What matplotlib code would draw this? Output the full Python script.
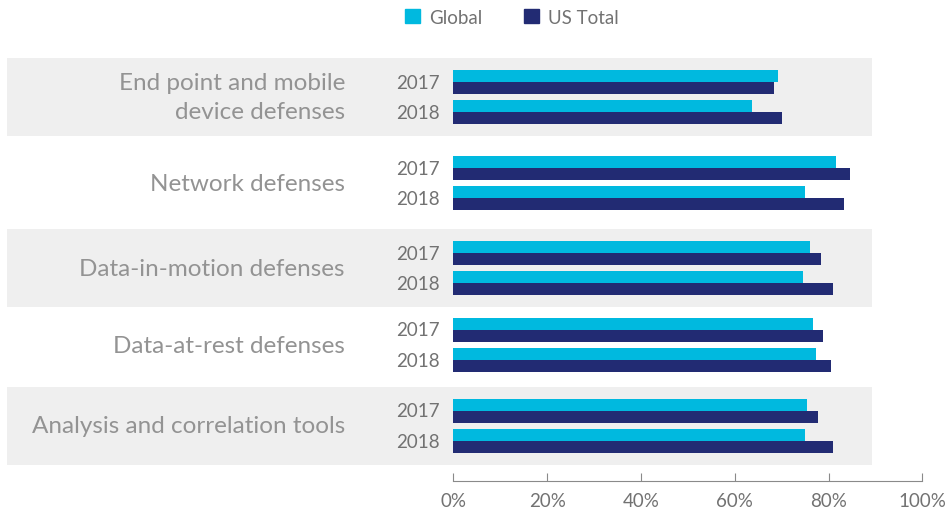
import numpy as np
import matplotlib.pyplot as plt
from matplotlib.patches import Patch
from matplotlib.transforms import blended_transform_factory

categories = ['End point and mobile\ndevice defenses', 'Network defenses',
              'Data-in-motion defenses', 'Data-at-rest defenses',
              'Analysis and correlation tools']
years = ['2017', '2018']
global_2017 = [69.2, 81.6, 76.1, 76.6, 75.4]
us_2017 = [68.4, 84.6, 78.4, 78.8, 77.7]
global_2018 = [63.7, 75.0, 74.6, 77.3, 75.0]
us_2018 = [70.0, 83.3, 80.9, 80.5, 80.9]
xticks = [0, 20, 40, 60, 80, 100]

c_global = '#00b9df'
c_us = '#222b73'
c_text = '#727272'
c_band = '#efefef'

plt.rcParams['font.family'] = ['Lato', 'DejaVu Sans']

fig = plt.figure(figsize=(9.52, 5.10), dpi=100)
ax = fig.add_axes([453.3 / 952, 28 / 510, 469 / 952, 425 / 510])

# group centres (the original spacing is slightly uneven)
y = np.array([0, 1.046, 2.079, 3.015, 4.0])
h = 0.14
ax.barh(y - 0.256, global_2017, height=h, color=c_global, zorder=3)
ax.barh(y - 0.110, us_2017, height=h, color=c_us, zorder=3)
ax.barh(y + 0.110, global_2018, height=h, color=c_global, zorder=3)
ax.barh(y + 0.256, us_2018, height=h, color=c_us, zorder=3)

# grey bands behind every other group, reaching into the label area
for i in range(0, len(categories), 2):
    ax.axhspan(y[i] - 0.475, y[i] + 0.475, xmin=-0.952, xmax=0.893,
               color=c_band, zorder=0, clip_on=False, lw=0)

trans = blended_transform_factory(ax.transAxes, ax.transData)
for i, cat in enumerate(categories):
    ax.text(-0.231, y[i], cat, transform=trans, ha='right', va='center',
            multialignment='right', fontsize=17.5, color='#939393',
            fontweight='normal', linespacing=1.45)
    ax.text(-0.028, y[i] - 0.183, years[0], transform=trans, ha='right',
            va='center', fontsize=13.5, color=c_text)
    ax.text(-0.028, y[i] + 0.183, years[1], transform=trans, ha='right',
            va='center', fontsize=13.5, color=c_text)

ax.set_xlim(0, 100)
ax.set_ylim(4.669, -0.5)
ax.set_xticks(xticks)
ax.set_xticklabels([f'{t}%' for t in xticks])
ax.set_yticks([])
ax.patch.set_alpha(0)
for s in ['top', 'right', 'left']:
    ax.spines[s].set_visible(False)
ax.spines['bottom'].set_color('#8a8a8a')
ax.tick_params(axis='x', direction='in', length=6, color='#8a8a8a',
               labelsize=13.5, labelcolor=c_text, pad=8)

handles = [Patch(color=c_global, label='Global'), Patch(color=c_us, label='US Total')]
fig.legend(handles=handles, loc='center', bbox_to_anchor=(512 / 952, 1 - 18 / 510),
           ncol=2, frameon=False, fontsize=13.5, labelcolor=c_text,
           handlelength=0.8, handleheight=0.8, handletextpad=0.5, columnspacing=2.2)

fig.savefig('out.png', dpi=100)
